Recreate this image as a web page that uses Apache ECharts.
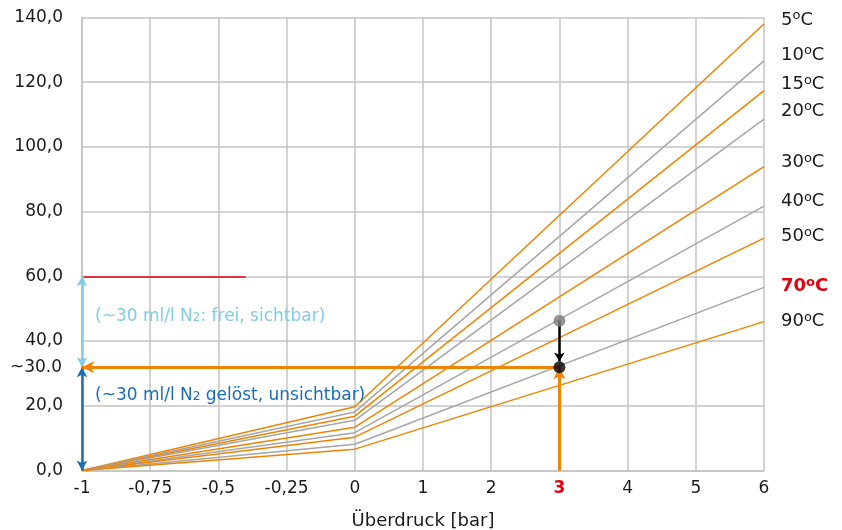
<!DOCTYPE html>
<html>
<head>
<meta charset="UTF-8">
<title>index.html</title>
<style type="text/css">
body { margin: 0; background: #fff; }
#main { width: 842px; height: 530px; }
</style>
</head>
<body>
  <div id="main"></div>
<script type="text/javascript" src="https://cdn.jsdelivr.net/npm/echarts@6/dist/echarts.min.js"></script>
<script>
  // data
  var xTicks = [-1, -0.75, -0.5, -0.25, 0, 1, 2, 3, 4, 5, 6];
  var temps = ['5', '10', '15', '20', '30', '40', '50', '70', '90'];
  var atMinus1 = [0, 0, 0, 0, 0, 0, 0, 0, 0];
  var atZero = [19.7, 18.1, 16.8, 15.5, 13.4, 11.7, 10.3, 8.1, 6.6];
  var atSix = [138.0, 126.6, 117.4, 108.6, 93.9, 81.7, 71.8, 56.6, 46.0];
  var freeLevel = 60;          // red line
  var redLineEnd = -0.4;
  var dissolved = 31.9;        // ~30 ml/l at 3 bar, 70°C
  var startPoint = 46.3;       // 40°C line at 3 bar
  var workPressure = 3;

  var orange = '#F08300';
  var grey = '#A6A6A6';
  var lineColors = [orange, grey, orange, grey, orange, grey, orange, grey, orange];
  var labelShift = [-4, -6, -6, -8, -4, -5, -2, -1, 0];
  var font = 'DejaVu Sans';

  // x axis is split: -1..0 in 0,25 steps, then 0..6 in 1 bar steps
  function pos(x) {
    return x <= 0 ? (x + 1) * 4 : 4 + x;
  }
  function fmt(v) {
    return String(v).replace('.', ',');
  }

  var myChart = echarts.init(document.getElementById('main'));

  var series = temps.map(function (t, i) {
    var hot = t === '70';
    return {
      name: t + '°C',
      type: 'line',
      showSymbol: false,
      silent: true,
      lineStyle: { color: lineColors[i], width: 1.5 },
      data: [[pos(-1), atMinus1[i]], [pos(0), atZero[i]], [pos(6), atSix[i]]],
      endLabel: {
        show: true,
        distance: 17,
        offset: [0, labelShift[i]],
        formatter: t + '{o|o}C',
        color: hot ? '#E3000F' : '#1a1a1a',
        fontFamily: font,
        fontSize: 18,
        fontWeight: hot ? 'bold' : 'normal',
        rich: {
          o: {
            fontSize: 13,
            fontFamily: font,
            fontWeight: hot ? 'bold' : 'normal',
            color: hot ? '#E3000F' : '#1a1a1a',
            padding: [0, 0, 8, 0]
          }
        }
      }
    };
  });

  // arrows and helper lines
  series.push({
    name: 'annot',
    type: 'line',
    data: [],
    silent: true,
    markLine: {
      silent: true,
      animation: false,
      symbol: ['none', 'none'],
      label: { show: false },
      data: [
        [
          { coord: [pos(-1), freeLevel], lineStyle: { color: '#E3000F', width: 1.5, type: 'solid' } },
          { coord: [pos(redLineEnd), freeLevel] }
        ],
        [
          { coord: [pos(-1), dissolved], symbol: 'arrow', symbolSize: [8, 10], lineStyle: { color: '#7FCDE6', width: 2.5, type: 'solid' } },
          { coord: [pos(-1), freeLevel], symbol: 'arrow', symbolSize: [8, 10] }
        ],
        [
          { coord: [pos(-1), 0], symbol: 'arrow', symbolSize: [8, 10], lineStyle: { color: '#1B6DB5', width: 2.5, type: 'solid' } },
          { coord: [pos(-1), dissolved], symbol: 'arrow', symbolSize: [8, 10] }
        ],
        [
          { coord: [pos(workPressure), dissolved], symbol: 'none', lineStyle: { color: orange, width: 3, type: 'solid' },
            label: { show: true, position: 'end', distance: 20, formatter: '~30.0', color: '#1a1a1a', fontFamily: font, fontSize: 17 } },
          { coord: [pos(-1), dissolved], symbol: 'arrow', symbolSize: [9, 12] }
        ],
        [
          { coord: [pos(workPressure), 0], symbol: 'none', lineStyle: { color: orange, width: 3, type: 'solid' } },
          { coord: [pos(workPressure), dissolved], symbol: 'arrow', symbolSize: [9, 12] }
        ],
        [
          { coord: [pos(workPressure), startPoint], symbol: 'none', lineStyle: { color: '#000', width: 2.5, type: 'solid' } },
          { coord: [pos(workPressure), dissolved + 1.8], symbol: 'arrow', symbolSize: [8, 9] }
        ]
      ]
    },
    markPoint: {
      silent: true,
      animation: false,
      symbolSize: 0,
      data: [
        {
          coord: [pos(-1), 47.7],
          label: {
            show: true, position: 'right', distance: 13,
            formatter: '(~30 ml/l N{s|2}: frei, sichtbar)',
            color: '#7FCDE6', fontFamily: font, fontSize: 17,
            rich: { s: { fontSize: 12, color: '#7FCDE6', fontFamily: font, padding: [3, 0, 0, 0] } }
          }
        },
        {
          coord: [pos(-1), 23.3],
          label: {
            show: true, position: 'right', distance: 13,
            formatter: '(~30 ml/l N{s|2} gelöst, unsichtbar)',
            color: '#1B6DB5', fontFamily: font, fontSize: 17,
            rich: { s: { fontSize: 12, color: '#1B6DB5', fontFamily: font, padding: [3, 0, 0, 0] } }
          }
        }
      ]
    }
  });

  series.push({
    name: 'dots',
    type: 'scatter',
    silent: true,
    symbolSize: 12,
    z: 5,
    data: [
      { value: [pos(workPressure), startPoint], itemStyle: { color: '#7a7a7a' } },
      { value: [pos(workPressure), dissolved], itemStyle: { color: '#000' } }
    ]
  });

  var option = {
    animation: false,
    textStyle: { fontFamily: font },
    grid: { left: 82, right: 78, top: 17.5, bottom: 59.5, outerBoundsMode: 'none' },
    xAxis: {
      type: 'value',
      min: 0,
      max: 10,
      interval: 1,
      name: 'Überdruck [bar]',
      nameLocation: 'middle',
      nameGap: 42,
      nameTextStyle: { color: '#1a1a1a', fontSize: 18, fontFamily: font },
      axisLine: { show: true, lineStyle: { color: '#c4c4c4', width: 1.5 } },
      axisTick: { show: false },
      splitLine: { show: true, lineStyle: { color: '#c4c4c4', width: 1.5 } },
      axisLabel: {
        color: '#1a1a1a',
        fontSize: 17,
        fontFamily: font,
        margin: 10,
        formatter: function (v) {
          var t = xTicks[Math.round(v)];
          if (t === workPressure) return '{r|' + t + '}';
          return fmt(t);
        },
        rich: { r: { color: '#E3000F', fontWeight: 'bold', fontSize: 17, fontFamily: font } }
      }
    },
    yAxis: {
      type: 'value',
      min: 0,
      max: 140,
      interval: 20,
      axisLine: { show: true, lineStyle: { color: '#c4c4c4', width: 1.5 } },
      axisTick: { show: false },
      splitLine: { show: true, lineStyle: { color: '#c4c4c4', width: 1.5 } },
      axisLabel: {
        color: '#1a1a1a',
        fontSize: 17,
        fontFamily: font,
        margin: 19,
        formatter: function (v) { return v.toFixed(1).replace('.', ','); }
      }
    },
    series: series
  };

  myChart.setOption(option);
</script>
</body>
</html>
